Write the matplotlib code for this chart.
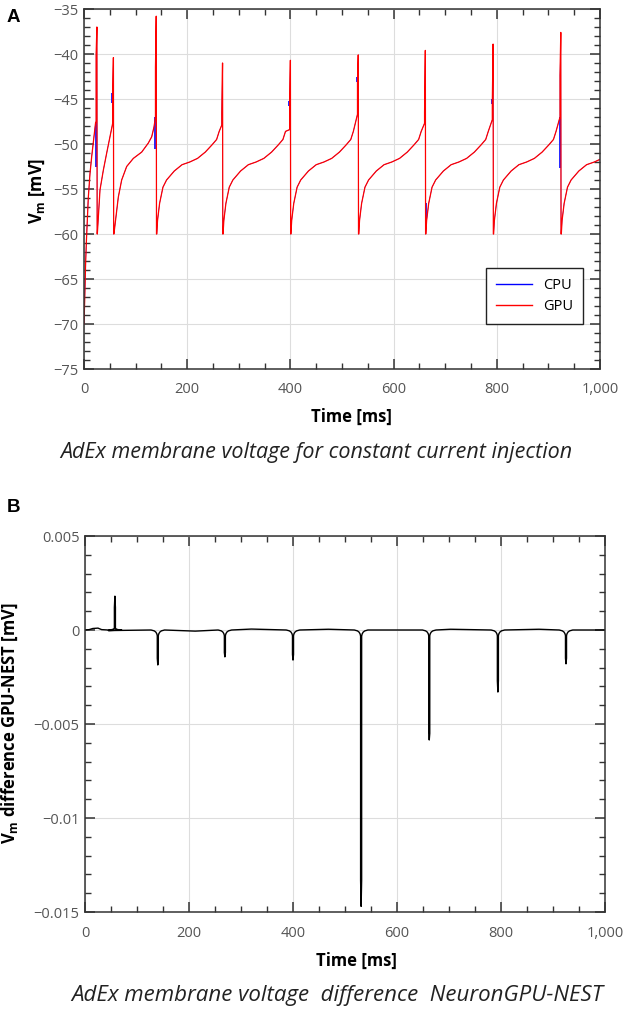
import matplotlib
matplotlib.use("Agg")
import matplotlib.pyplot as plt
from matplotlib.ticker import MultipleLocator, FuncFormatter
from matplotlib.lines import Line2D

plt.rcParams['font.family'] = ['Open Sans', 'DejaVu Sans']
plt.rcParams['mathtext.fontset'] = 'custom'
plt.rcParams['mathtext.rm'] = 'Open Sans:bold'
plt.rcParams['mathtext.bf'] = 'Open Sans:bold'

# ---------------- Panel A data (membrane voltage, mV) ----------------
init_t = [0, 1.5, 3, 4.5, 6, 8.3, 11.6, 14.9, 19.4, 22.5]
init_v = [-70, -67, -63.5, -61, -59, -56, -53.3, -51.4, -49.2, -47.6]
isi2_t = [25.8, 27.8, 31, 37.5, 44, 50.4, 54.9]
isi2_v = [-60, -58.1, -55.1, -52.9, -51.0, -49.2, -47.9]
isi3_t = [58.0, 62, 66.5, 73, 82.7, 95.6, 111.8, 124.6, 131.2, 135.7]
isi3_v = [-60, -58.1, -55.9, -54, -52.5, -51.6, -50.9, -49.9, -49.2, -48.1]
# steady-state inter-spike trajectory (offset after a spike, V)
ss_off = [1.0, 2.5, 6.5, 13, 20, 26, 35, 50, 65, 80, 95, 108, 117, 122]
ss_v = [-60, -58.5, -56.6, -54.8, -54.0, -53.6, -53.0, -52.3, -52.0, -51.6, -50.9, -50.1, -49.5, -48.6]

spike_t = [25.0, 57.0, 140.0, 268.5, 400.0, 531.5, 661.5, 792.8, 924.0]
spike_pre = [-47.5, -47.7, -47.0, -47.9, -48.4, -46.7, -47.7, -47.3, -47.0]
spike_mid = [-40.1, -44.4, -41.5, -46.6, -45.5, -43.1, -46.5, -45.4, -42.4]
spike_peak = [-37.0, -40.4, -35.8, -41.0, -40.7, -40.1, -39.6, -38.9, -37.6]
v_reset = -60.0

cpu_dev_t = [23.0, 55.0, 138.0, 398.0, 529.5, 663.5, 790.8, 922.0]
cpu_dev_lo = [-52.5, -45.4, -50.5, -45.8, -43.1, -58.6, -45.5, -52.7]
cpu_dev_hi = [-47.5, -44.3, -47.0, -45.2, -42.5, -56.6, -45.0, -47.0]

# ---------------- Panel B data (difference, mV) ----------------
diff_spike_t = [57.5, 140, 269, 400, 531, 662, 794, 925]
diff_spike_peak = [0.0018, -0.00186, -0.00143, -0.0016, -0.0147, -0.00585, -0.0033, -0.0018]
diff_spike_thick = [0.0012, -0.0015, -0.0012, -0.0013, -0.0133, -0.0055, -0.0027, -0.0015]
diff_notch_depth = [0.0001, -0.0003, -0.0003, -0.0003, -0.00032, -0.0003, -0.0003, -0.0003]
notch_pre_off = [-13, -7, -4, -2]
notch_pre_frac = [0.0, 0.15, 0.35, 0.65]
notch_post_off = [2, 4, 7, 13]
notch_post_frac = [0.65, 0.35, 0.15, 0.0]
base_t = [0, 8, 15, 25, 32, 45, 212, 320, 468, 703, 873, 1000]
base_v = [0, 0.00002, 0.00008, 0.0001, 0.00002, -0.00003, -0.00006, 0.00005, 0.00004, 0.00004, 0.00004, 0]

# ---------------- build traces ----------------
gt = list(init_t)
gv = list(init_v)
for i, ts in enumerate(spike_t):
    gt += [ts - 1.5, ts - 1.5, ts, ts + 0.5]
    gv += [spike_pre[i], spike_mid[i], spike_peak[i], v_reset]
    if i == 0:
        gt += isi2_t; gv += isi2_v
    elif i == 1:
        gt += isi3_t; gv += isi3_v
    else:
        gt += [ts + o for o in ss_off]
        gv += list(ss_v)

segs = []
for t0, v0 in zip(base_t, base_v):
    segs.append([(t0, v0)])
for i, ts in enumerate(diff_spike_t):
    d = diff_notch_depth[i]
    pts = [(ts + o, f * d) for o, f in zip(notch_pre_off, notch_pre_frac)]
    pts += [(ts - 1, d), (ts - 1, diff_spike_thick[i]), (ts, diff_spike_peak[i]),
            (ts + 1, diff_spike_thick[i]), (ts + 1, d)]
    pts += [(ts + o, f * d) for o, f in zip(notch_post_off, notch_post_frac)]
    segs.append(pts)
segs.sort(key=lambda s: s[0][0])
bt = [p[0] for s in segs for p in s]
bv = [p[1] for s in segs for p in s]

# ---------------- figure ----------------
W, H = 630, 1011
fig = plt.figure(figsize=(W / 100, H / 100), dpi=100)
ax1 = fig.add_axes([84 / W, 1 - 369 / H, 516 / W, 360 / H])
ax2 = fig.add_axes([85 / W, 1 - 912 / H, 520 / W, 376 / H])


def style(ax):
    ax.tick_params(which='both', direction='in', top=True, right=True,
                   color='#333333', labelcolor='#555555', labelsize=10.5)
    ax.tick_params(which='major', length=7, width=1.1)
    ax.tick_params(which='minor', length=4.3, width=1.0)
    for s in ax.spines.values():
        s.set_color('#333333')
        s.set_linewidth(1.1)
    ax.grid(True, which='major', color='#dddddd', lw=0.8)
    ax.set_axisbelow(True)
    ax.xaxis.set_major_locator(MultipleLocator(200))
    ax.xaxis.set_minor_locator(MultipleLocator(50))
    ax.xaxis.set_major_formatter(FuncFormatter(lambda x, p: f"{x:,.0f}"))
    ax.set_xlim(0, 1000)


# Panel A
style(ax1)
ax1.plot(gt, gv, color='#0000ff', lw=0.35, label='CPU')
ax1.vlines(cpu_dev_t, cpu_dev_lo, cpu_dev_hi, color='#0000ff', lw=1.2)
ax1.plot(gt, gv, color='#ff0000', lw=0.9, label='GPU')
ax1.set_ylim(-75, -35)
ax1.yaxis.set_major_locator(MultipleLocator(5))
ax1.yaxis.set_minor_locator(MultipleLocator(1))
ax1.yaxis.set_major_formatter(FuncFormatter(lambda v, p: f"{round(v, 6):g}".replace('-', '\u2212')))
ax1.tick_params(axis='x', which='major', pad=9)
ax1.tick_params(axis='y', which='major', pad=4)
ax1.set_xlabel('Time [ms]', fontsize=12, fontweight='bold')
ax1.set_ylabel(r'V$_\mathrm{m}$ [mV]', fontsize=12, fontweight='bold')
ax1.xaxis.set_label_coords((351.5 - 84) / 516, (369 - 408) / 360)
ax1.yaxis.set_label_coords((47 - 84) / 516, (369 - 191) / 360)
handles = [Line2D([], [], color='#0000ff', lw=1.0), Line2D([], [], color='#ff0000', lw=1.0)]
leg = ax1.legend(handles, ['CPU', 'GPU'], loc='lower right',
                 bbox_to_anchor=((583 - 84) / 516, (369 - 324) / 360),
                 borderaxespad=0, fontsize=10.5, fancybox=False, framealpha=1,
                 edgecolor='#222222', handlelength=2.5, handletextpad=0.7,
                 borderpad=0.7, labelspacing=0.4)
leg.get_frame().set_linewidth(1.0)

# Panel B
style(ax2)
ax2.plot(bt, bv, color='black', lw=1.0)
ax2.set_ylim(-0.015, 0.005)
ax2.yaxis.set_major_locator(MultipleLocator(0.005))
ax2.yaxis.set_minor_locator(MultipleLocator(0.001))
ax2.yaxis.set_major_formatter(FuncFormatter(lambda v, p: f"{round(v, 6):g}".replace('-', '\u2212')))
ax2.tick_params(axis='x', which='major', pad=10)
ax2.tick_params(axis='y', which='major', pad=4)
ax2.set_xlabel('Time [ms]', fontsize=12, fontweight='bold')
ax2.set_ylabel(r'V$_\mathrm{m}$ difference GPU-NEST [mV]', fontsize=12, fontweight='bold')
ax2.xaxis.set_label_coords((356 - 85) / 520, (912 - 951.7) / 376)
ax2.yaxis.set_label_coords((20 - 85) / 520, (912 - 723) / 376)

# panel letters and captions
fig.text(7 / W, 1 - 22 / H, 'A', fontsize=13.5, fontweight='bold',
         family=['Liberation Sans', 'DejaVu Sans'], ha='left', va='baseline')
fig.text(7 / W, 1 - 512 / H, 'B', fontsize=13.5, fontweight='bold',
         family=['Liberation Sans', 'DejaVu Sans'], ha='left', va='baseline')
fig.text(316 / W, 1 - 458 / H, 'AdEx membrane voltage for constant current injection',
         fontsize=15.5, style='italic', color='#222222', ha='center', va='baseline')
fig.text(337.5 / W, 1 - 1001.5 / H, 'AdEx membrane voltage  difference  NeuronGPU-NEST',
         fontsize=16, style='italic', color='#222222', ha='center', va='baseline')

fig.savefig('out.png', dpi=100)
